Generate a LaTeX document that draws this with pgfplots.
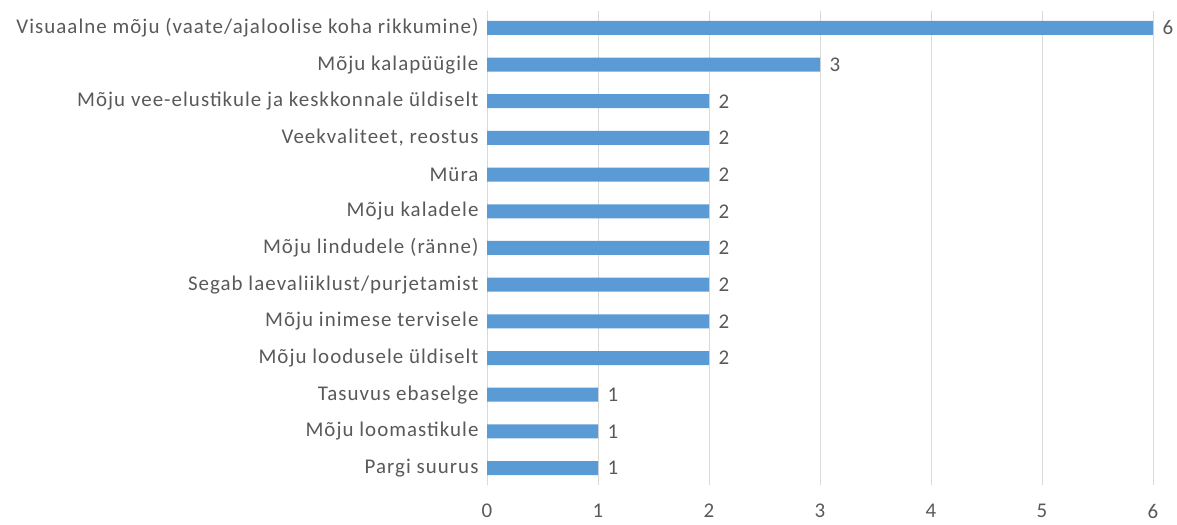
\documentclass[border=0pt]{standalone}
\usepackage{pgfplots}
\pgfplotsset{compat=1.18}
\usepackage{fontspec}
\setmainfont{Carlito}[LetterSpace=5]
\definecolor{barblue}{HTML}{5B9BD5}
\definecolor{txtgray}{HTML}{595959}
\definecolor{gridgray}{HTML}{D9D9D9}
\begin{document}
\begin{tikzpicture}
\useasboundingbox (0,0) rectangle (1177bp,525bp);
\begin{axis}[at={(487bp,40bp)},anchor=south west,scale only axis,
width=666bp,height=474bp,xbar,bar width=14bp,
xmin=0,xmax=6,ymin=-0.46,ymax=12.46,
xtick={0,...,6},ytick={0,...,12},
yticklabels={Pargi suurus,Mõju loomastikule,Tasuvus ebaselge,Mõju loodusele üldiselt,Mõju inimese tervisele,Segab laevaliiklust/purjetamist,Mõju lindudele (ränne),Mõju kaladele,Müra,Veekvaliteet{,} reostus,Mõju vee-elustikule ja keskkonnale üldiselt,Mõju kalapüügile,Visuaalne mõju (vaate/ajaloolise koha rikkumine)},
axis line style={draw=none},major tick length=0pt,
xmajorgrids=true,grid style={gridgray,line width=0.8pt},
tick label style={font=\fontsize{21}{23}\selectfont,text=txtgray},
/pgf/number format/assume math mode=true,
xticklabel style={inner sep=0pt,yshift=-19bp},yticklabel style={xshift=-5bp},
nodes near coords,nodes near coords style={font=\fontsize{21}{23}\selectfont,text=txtgray,xshift=6bp}]
\addplot[fill=barblue,draw=none] coordinates {(1,0)(1,1)(1,2)(2,3)(2,4)(2,5)(2,6)(2,7)(2,8)(2,9)(2,10)(3,11)(6,12)};
\end{axis}
\end{tikzpicture}
\end{document}
